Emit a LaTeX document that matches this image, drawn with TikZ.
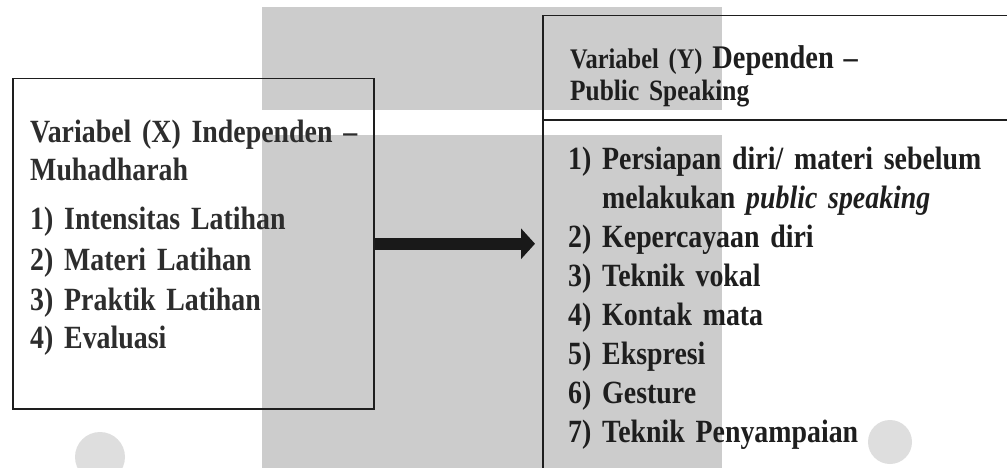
\documentclass[tikz,border=0pt]{standalone}
\usepackage{fontspec}
\setmainfont{Liberation Serif}[FakeStretch=0.86]
\usepackage{tikz}
\definecolor{inkdark}{RGB}{30,30,30}
\definecolor{inkgray}{RGB}{45,45,45}
\definecolor{markgray}{RGB}{204,204,204}
\definecolor{dotgray}{RGB}{222,222,222}
\usetikzlibrary{arrows.meta, positioning, calc}

\begin{document}
\begin{tikzpicture}[x=1pt, y=-1pt,
    varbox/.style={draw=inkdark, line width=1.5pt, inner sep=0pt,
                   minimum width=#1, minimum height=330pt},
    vartext/.style={text=inkdark, align=left, inner sep=0pt, text width=#1,
                    font=\bfseries\fontsize{32.4}{39}\selectfont},
    bigarrow/.style={draw=black!90, line width=12pt,
                     -{Triangle[length=14pt, width=30pt]}}
]
    \useasboundingbox (0,0) rectangle (1007,468);
    \clip (0,0) rectangle (1007,468);

    % watermark background
    \fill[markgray] (262,7) rectangle (722,110);
    \fill[markgray] (262,135) rectangle (722,468);
    \fill[dotgray] (100,457) circle (25pt);
    \fill[dotgray] (890,442) circle (22pt);

    % variabel X
    \node[varbox=361pt, anchor=north west] (xbox) at (12,78) {};
    \node[vartext=340pt, anchor=north west, text=inkgray] (xtext) at (30,120) {
        Variabel (X) Independen --\\[-1pt]
        Muhadharah\\[10pt]
        1) Intensitas Latihan\\[2pt]
        2) Materi Latihan\\[1pt]
        3) Praktik Latihan\\[-1pt]
        4) Evaluasi
    };

    % variabel Y
    \node[varbox=520pt, minimum height=520pt, anchor=north west] (ybox) at (542,15) {};
    \draw[draw=inkdark, line width=1.5pt] (ybox.west |- 0,120) -- (ybox.east |- 0,120);
    \node[vartext=420pt, anchor=north west, font=\bfseries\fontsize{29.5}{32}\selectfont] (yhead) at (570,45) {
        {\fontsize{28.4}{32}\selectfont Variabel (Y)} {\fontsize{33}{32}\selectfont Dependen --}\\
        Public Speaking
    };
    \node[vartext=430pt, anchor=north west] (ybody) at (568,147) {
        1) Persiapan diri/ materi sebelum\\
        \hphantom{1)}\ melakukan \textit{public speaking}\\
        2) Kepercayaan diri\\
        3) Teknik vokal\\
        4) Kontak mata\\
        5) Ekspresi\\
        6) Gesture\\
        7) Teknik Penyampaian
    };

    \draw[bigarrow, shorten >=7pt] (xbox.east) -- (xbox.east -| ybox.west);
\end{tikzpicture}
\end{document}
